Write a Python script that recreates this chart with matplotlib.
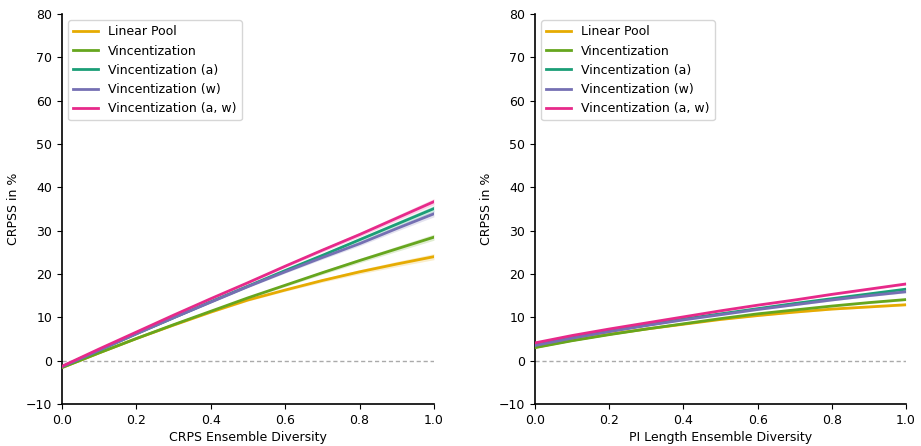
import matplotlib
matplotlib.use("Agg")
import matplotlib.pyplot as plt
import numpy as np

plt.rcParams["font.size"] = 9

x = [0.0, 0.1, 0.2, 0.3, 0.4, 0.5, 0.6, 0.7, 0.8, 0.9, 1.0]
labels = ["Linear Pool", "Vincentization", "Vincentization (a)",
          "Vincentization (w)", "Vincentization (a, w)"]
colors = ["#e6ab02", "#66a61e", "#1b9e77", "#7570b3", "#e7298a"]

left_lp = [-1.6, 1.8, 5.1, 8.2, 11.2, 14.0, 16.3, 18.5, 20.5, 22.3, 24.0]
left_v = [-1.6, 1.8, 5.1, 8.3, 11.4, 14.5, 17.4, 20.3, 23.1, 25.8, 28.5]
left_a = [-1.4, 2.4, 6.2, 9.9, 13.6, 17.2, 20.8, 24.3, 27.9, 31.5, 35.1]
left_w = [-1.4, 2.4, 6.2, 9.9, 13.5, 17.1, 20.5, 23.8, 27.0, 30.5, 33.9]
left_aw = [-1.3, 2.7, 6.6, 10.5, 14.3, 18.0, 21.8, 25.5, 29.1, 32.9, 36.7]
left_band = [0.1, 0.1, 0.1, 0.15, 0.2, 0.25, 0.3, 0.4, 0.5, 0.6, 0.7]

right_lp = [3.1, 4.7, 6.1, 7.3, 8.4, 9.5, 10.4, 11.2, 11.9, 12.4, 12.9]
right_v = [3.0, 4.6, 6.0, 7.3, 8.5, 9.7, 10.8, 11.7, 12.6, 13.4, 14.1]
right_a = [3.6, 5.3, 6.8, 8.2, 9.6, 10.8, 12.0, 13.2, 14.3, 15.4, 16.5]
right_w = [3.5, 5.2, 6.7, 8.1, 9.4, 10.6, 11.8, 12.9, 14.0, 15.0, 15.9]
right_aw = [4.1, 5.8, 7.3, 8.7, 10.1, 11.5, 12.8, 14.0, 15.3, 16.5, 17.7]
right_band = [0.15, 0.12, 0.1, 0.1, 0.1, 0.12, 0.15, 0.18, 0.2, 0.22, 0.25]

fig = plt.figure(figsize=(9.21, 4.46), dpi=100)
ax1 = fig.add_axes([0.0673, 0.0942, 0.4039, 0.8744])
ax2 = fig.add_axes([0.5809, 0.0942, 0.4028, 0.8744])

panels = [
    (ax1, [left_lp, left_v, left_a, left_w, left_aw], left_band, "CRPS Ensemble Diversity"),
    (ax2, [right_lp, right_v, right_a, right_w, right_aw], right_band, "PI Length Ensemble Diversity"),
]
xa = np.array(x)
for ax, series, band, xlabel in panels:
    ax.axhline(0, color="#aaaaaa", linestyle="--", linewidth=1, dashes=(3, 2), zorder=1)
    for ys, c, lab in zip(series, colors, labels):
        ya = np.array(ys)
        b = np.array(band)
        ax.fill_between(xa, ya - b, ya + b, color=c, alpha=0.2, linewidth=0, zorder=2)
        ax.plot(xa, ya, color=c, linewidth=2, label=lab, zorder=3)
    ax.set_xlim(0, 1)
    ax.set_ylim(-10, 80)
    ax.set_yticks(range(-10, 81, 10))
    ax.set_xticks([0.0, 0.2, 0.4, 0.6, 0.8, 1.0])
    ax.set_xlabel(xlabel, labelpad=3)
    ax.set_ylabel("CRPSS in %")
    for s in ("left", "bottom"):
        ax.spines[s].set_linewidth(1.2)
    ax.spines["top"].set_visible(False)
    ax.spines["right"].set_visible(False)
    ax.legend(loc="upper left", fontsize=9, framealpha=0.8)

fig.savefig("out.png", dpi=100)
